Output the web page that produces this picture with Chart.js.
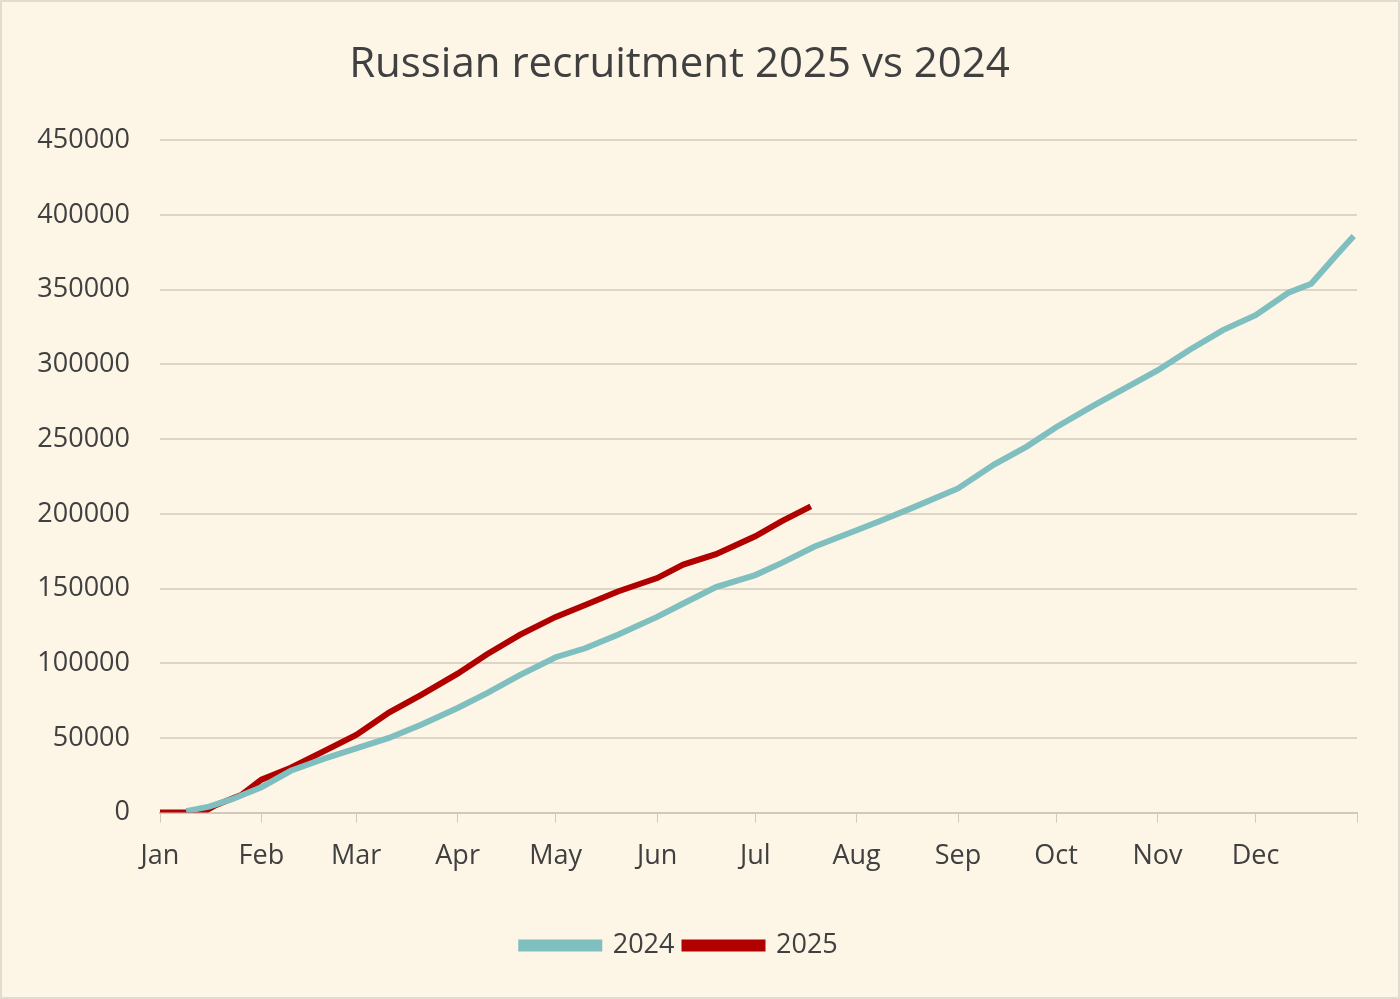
<!DOCTYPE html>
<html><head><meta charset="utf-8">
<script src="https://cdn.jsdelivr.net/npm/chart.js@4/dist/chart.umd.min.js"></script>
<style>html,body{margin:0;padding:0;background:#fdf5e6}#w{width:1400px;height:999px;position:relative;box-sizing:border-box;border:2px solid #e2dccf}</style>
</head><body><div id="w"><canvas id="c"></canvas></div>
<script>
const monthLabels=["Jan","Feb","Mar","Apr","May","Jun","Jul","Aug","Sep","Oct","Nov","Dec",""];
const monthStartDays=[0,31,60,91,121,152,182,213,244,274,305,335,366];
const yTicks=[0,50000,100000,150000,200000,250000,300000,350000,400000,450000];
const days2024=[8,15,22,31,40,50,60,70,80,91,100,110,121,130,140,152,160,170,182,190,200,213,220,230,244,255,265,274,285,295,305,315,325,335,345,352,360,365];
const values2024=[1000,4000,9000,17000,28000,36000,43000,50000,59000,70000,80000,92000,104000,110000,119000,131000,140000,151000,159000,167000,178000,189000,195000,204000,217000,233000,245000,258000,272000,284000,296000,310000,323000,333000,348000,354000,374000,386000];
const days2025=[0,13,17,25,31,40,50,60,70,80,91,100,110,121,130,140,152,160,170,182,190,199];
const values2025=[0,0,5000,12000,22000,30000,41000,52000,67000,79000,93000,106000,119000,131000,139000,148000,157000,166000,173000,185000,195000,205000];
const pts=(d,v)=>d.map((x,i)=>({x:x,y:v[i]}));
const F="'Open Sans', sans-serif", TC="#404040";
new Chart(document.getElementById('c'),{
 type:'line',
 data:{datasets:[
  {label:'2024',data:pts(days2024,values2024),borderColor:'#7fbfbf',backgroundColor:'#7fbfbf',borderWidth:6,pointRadius:0,tension:0},
  {label:'2025',data:pts(days2025,values2025),borderColor:'#b00000',backgroundColor:'#b00000',borderWidth:6,pointRadius:0,tension:0}
 ]},
 options:{responsive:true,maintainAspectRatio:false,animation:false,
  layout:{padding:{left:0,right:41,top:16,bottom:28}},
  plugins:{
   title:{display:true,text:'Russian recruitment 2025 vs 2024',color:TC,font:{family:F,size:42,weight:'normal'},padding:{top:22,bottom:50}},
   legend:{position:'bottom',labels:{color:TC,font:{family:F,size:27},boxWidth:78,boxHeight:6,padding:10}},
   tooltip:{enabled:false}
  },
  scales:{
   x:{type:'linear',min:0,max:366,
     afterBuildTicks:s=>{s.ticks=monthStartDays.map(v=>({value:v}));},
     afterFit:s=>{s.height+=31;},
     ticks:{autoSkip:false,maxRotation:0,color:TC,font:{family:F,size:27},padding:18,callback:(v)=>monthLabels[monthStartDays.indexOf(v)]},
     grid:{drawOnChartArea:false,color:'#cfc8bb',tickLength:10},
     border:{color:'#cfc8bb',width:2}},
   y:{min:0,max:450000,
     afterBuildTicks:s=>{s.ticks=yTicks.map(v=>({value:v}));},
     afterFit:s=>{s.width=158;},
     ticks:{color:TC,font:{family:F,size:27},padding:30,callback:v=>String(v)},
     grid:{color:'#ddd5c5',lineWidth:2,drawTicks:false},
     border:{display:false}}
  }
 },
 plugins:[{id:'bg',beforeDraw:c=>{const x=c.ctx;x.save();x.fillStyle='#fdf5e6';x.fillRect(0,0,c.width,c.height);x.restore();}}]
});
</script></body></html>
